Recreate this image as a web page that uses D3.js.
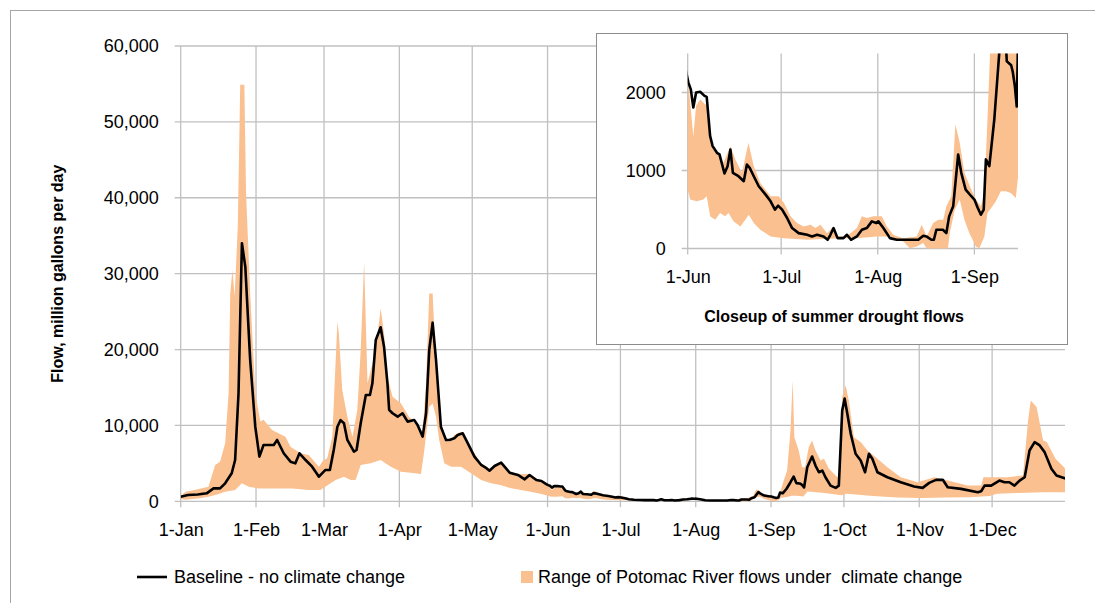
<!DOCTYPE html>
<html lang="en">
<head>
    <meta charset="UTF-8"/>
    <title>Potomac flows</title>
    <script src="https://d3js.org/d3.v7.min.js"></script>
    <style>
        body { margin: 0; background: #fff; }
        text { font-family: "Liberation Sans", Arial, sans-serif; fill: #000; }
    </style>
</head>
<body>
<div id="chart"></div>

<script>
    // day of year (0 = 1-Jan), flow in million gallons per day
    const baseline = [
        [0, 600], [3, 830], [7, 900], [10.7, 1050], [13.5, 1700], [16.2, 1700], [18.3, 2370], [21, 3700],
        [22.4, 5440], [23.8, 14230], [25.2, 34000], [26.6, 30900], [28.6, 18600], [30.7, 9830], [32.4, 5880],
        [34.1, 7420], [38.3, 7420], [39.7, 8080], [42.4, 6330], [45.2, 5220], [47.2, 5000], [48.9, 6330],
        [51.4, 5440], [54.1, 4560], [56.9, 3240], [59.6, 4130], [61.4, 4130], [63, 6760], [64.5, 9830],
        [65.8, 10700], [67.2, 10280], [68.6, 8080], [71.3, 6540], [72.4, 6760], [74.1, 10280], [76.2, 14000],
        [77.9, 14000], [78.9, 15550], [80.3, 21260], [82.3, 22930], [83.7, 20380], [85.1, 15550], [85.8, 12060],
        [87.2, 11600], [89.3, 11150], [91.3, 11600], [93.4, 10500], [96.1, 10700], [97.5, 10060], [99.6, 8520],
        [101, 11600], [102.3, 19940], [103.7, 23540], [105.1, 18620], [107.1, 9830], [109.2, 8080], [110.6, 8080],
        [112.6, 8300], [114, 8740], [116.1, 8960], [118.2, 7640], [120.9, 5880], [123.7, 4790], [125.5, 4450],
        [127.1, 4030], [129.2, 4650], [131.9, 5090], [135.4, 3770], [138.8, 3470], [141.6, 2900], [143.6, 3470],
        [146.4, 2810], [148.5, 2680], [150.3, 2300],
        [151.2, 2130], [152, 2040], [152.8, 1807], [153.7, 2000], [155, 2010], [156.4, 1957], [157.1, 1944],
        [158.2, 1442], [159, 1313], [160.4, 1227], [161.2, 1206], [162.8, 961], [163.8, 1056], [164.7, 1270],
        [165.5, 970], [167.3, 927], [169, 863], [170, 1077], [170.9, 1034], [172.2, 927], [173.8, 798],
        [176, 691], [177.6, 605], [179, 498], [180, 549], [181.3, 498], [182.9, 391], [184.5, 262], [186.6, 197],
        [189.3, 176], [190.9, 155], [192.5, 176], [194.6, 155], [195.9, 112], [196.8, 176], [197.8, 262],
        [199.1, 133], [201, 133], [202.1, 176], [203.4, 112], [205.3, 155], [206.9, 240], [208.5, 262],
        [210.1, 348], [211.5, 326], [212.2, 348], [213.8, 262], [215.9, 133], [218.1, 112], [225, 112],
        [226.6, 163], [227.6, 155], [229.2, 112], [230, 112], [230.8, 240], [232.9, 240], [234, 197],
        [234.9, 412], [236.2, 541], [237.8, 1206], [238.8, 970], [240.2, 755], [242, 670], [243, 627],
        [244.1, 519], [245.1, 433], [246, 498], [246.7, 1142], [247.8, 1056], [249.4, 1657], [251, 2515],
        [252.3, 3260], [253.4, 2400], [254.8, 2350], [255.3, 2270], [256, 2080], [256.6, 1820],
        [257.9, 4490], [259.9, 5900], [261.3, 4710], [262.7, 3830], [264.1, 4050], [265.4, 3170], [267.5, 2070],
        [269.6, 1770], [270.9, 2070], [272.3, 11980], [273.3, 13530], [274.4, 11550], [275.8, 8900],
        [277.8, 6260], [279.9, 5380], [281.7, 3830], [283.3, 6260], [284.7, 5600], [286.8, 3830], [290.9, 3170],
        [296.4, 2510], [301.9, 1940], [305.4, 1770], [308.1, 2430], [310.9, 2830], [313.7, 2830], [315.7, 1850],
        [321.2, 1640], [328.1, 1190], [329.5, 1330], [330.9, 2070], [333.6, 2070], [337, 2730], [339.1, 2510],
        [341.1, 2510], [343.2, 2070], [345.3, 2730], [347.4, 3170], [349.4, 6700], [351.5, 7800], [353.6, 7360],
        [355.6, 6480], [358.4, 4280], [360.5, 3390], [364.6, 2960]
    ];

    const rangeHigh = [
        [0, 700], [2, 1270], [5.6, 1500], [11.4, 1930], [14.2, 4790], [16.2, 5220], [18.3, 7640], [19.7, 14230],
        [20.4, 27400], [21.3, 30500], [22.2, 27000], [23.5, 36200], [24.5, 54900], [26.2, 54900], [26.9, 40600],
        [28.6, 27400], [30.7, 14230], [32.8, 10500], [34.1, 10740], [37.6, 9400], [43.1, 8520], [45.2, 7200],
        [49.3, 6330], [52.7, 6100], [56.9, 4560], [58.5, 5300], [60.3, 5670], [62.4, 8520], [64.5, 23670],
        [65.1, 22140], [66.5, 14670], [68.6, 11150], [70.7, 8520], [72.7, 12030], [74.1, 19940], [75.5, 31580],
        [76.9, 15550], [80.3, 19940], [82.3, 25440], [83.7, 22140], [85.1, 16420], [87.2, 13790], [90.6, 12920],
        [94, 11150], [97.5, 9830], [99.6, 9170], [101, 15550], [102.3, 27400], [103.7, 27400], [105.1, 17750],
        [106.4, 11150], [108.5, 8080], [110.6, 7860], [112.6, 8740], [115.4, 9170], [118.2, 7640], [120.9, 6330],
        [123.7, 5000], [127, 4300], [129, 4800], [132, 5200], [135, 4000], [139, 3600], [143, 3600], [147, 2900],
        [150, 2300],
        [151, 2170], [151.8, 1870], [152.8, 1440], [153.7, 1830], [155, 1910], [157.1, 1830], [158.7, 1360],
        [160.4, 1230], [162.5, 1100], [164.7, 1310], [166.3, 1140], [168.4, 970], [170.5, 1356], [172.2, 1056],
        [174.3, 841], [177.6, 670], [180.2, 670], [181.9, 584], [184, 412], [186.1, 326], [188.2, 283],
        [190.4, 305], [192, 262], [193.6, 305], [195.7, 197], [197.3, 262], [199, 155], [202, 155], [205.3, 262],
        [206.9, 412], [208.5, 391], [210.6, 412], [213.3, 412], [214.9, 283], [217, 176], [220, 133],
        [224.5, 155], [226.1, 305], [227.7, 155], [229.8, 326], [231.4, 369], [233, 369], [234, 541],
        [235.6, 670], [236.9, 1592], [238.3, 1356], [239.8, 970], [242, 755], [243.5, 627], [245.1, 541],
        [246.2, 712], [247.2, 1657], [248.5, 3000], [249.6, 4050], [251, 9340], [251.9, 15940], [252.6, 8450],
        [254.4, 6700], [255.8, 4490], [257, 4490], [258.5, 7130], [259.9, 8020], [261.3, 6700], [263.4, 5380],
        [264.8, 5600], [266.8, 4280], [269.6, 3390], [271, 3000], [272.3, 13740], [273.7, 15290], [275, 13300],
        [277.1, 8450], [279.9, 7800], [282.7, 6700], [286.1, 5820], [290.9, 4490], [296.4, 3170], [303.3, 2510],
        [310.2, 3170], [315.7, 2730], [324, 2070], [329.5, 2070], [330.4, 3170], [334.5, 3170], [340.4, 3170],
        [346.7, 3390], [348.8, 10660], [349.9, 13300], [352.3, 12420], [355, 8020], [356.5, 7800], [360.1, 5600],
        [363.6, 4490], [364.6, 4050]
    ];

    const rangeLow = [
        [0, 300], [2, 200], [8, 400], [11.4, 600], [15, 900], [18.3, 1270], [22.4, 1490], [25.2, 2370],
        [28, 1930], [32.1, 1700], [39, 1700], [45.9, 1700], [52.7, 1490], [57.5, 1490], [61.7, 2370],
        [63.8, 2810], [67.2, 3240], [70, 2810], [72, 2810], [74.1, 4790], [78.2, 5000], [82.3, 5440],
        [86.5, 4560], [90.6, 3900], [94.7, 3750], [98.9, 3600], [100.3, 6760], [102.3, 12470], [103.7, 12900],
        [105.1, 11150], [106.4, 8080], [108.5, 5000], [111.3, 4560], [115.4, 4560], [119.5, 3690], [123.7, 2810],
        [127.8, 2370], [132, 2100], [136, 1710], [140, 1500], [144, 1270], [148, 1000], [151, 755],
        [151.8, 627], [153.9, 605], [156, 627], [157.1, 670], [158.2, 412], [159.8, 369], [161.4, 455],
        [163, 412], [164.1, 455], [165.7, 348], [167.9, 283], [169.5, 369], [170.6, 433], [172.2, 326],
        [174.3, 240], [177.6, 155], [181.9, 133], [189.3, 112], [199.7, 133], [205.3, 133], [211.7, 155],
        [216, 155], [220.2, 90], [222.3, 4], [224.5, 26], [226.6, 69], [227.7, 0], [234.5, 0], [235.1, 197],
        [236.7, 498], [238.3, 627], [239.8, 369], [241.4, 197], [243.5, 26], [244.6, 4], [246.2, 155],
        [247.2, 455], [248.8, 541], [249.9, 605], [251.5, 734], [253.1, 734], [254.7, 712], [256.3, 648],
        [258, 1300], [265, 1100], [272, 800], [274, 1000], [285, 700], [295, 500], [305, 450], [315, 500],
        [325, 550], [333, 700], [336, 1000], [345, 1100], [355, 1200], [364.6, 1200]
    ];

    const mainYTicks = [0, 10000, 20000, 30000, 40000, 50000, 60000];
    const insetYTicks = [0, 1000, 2000];
    const legendLabels = ["Baseline - no climate change", "Range of Potomac River flows under  climate change"];

    const YEAR = 2009;
    const toDate = day => new Date(new Date(YEAR, 0, 1).getTime() + day * 864e5);
    const fmtDate = d3.timeFormat("%-d-%b");
    const fmtNum = d3.format(",");

    const W = 1095, H = 603;
    const gridColor = "#c0c0c0";
    const bandColor = "#fac090";

    const svg = d3.select("#chart").append("svg")
        .attr("width", W)
        .attr("height", H);

    // outer chart frame
    svg.append("rect")
        .attr("x", 10.5).attr("y", 10.5)
        .attr("width", 1100).attr("height", 620)
        .attr("fill", "white")
        .attr("stroke", "#a6a6a6");

    // draws one panel: gridlines, band, line, tick labels
    function panel(g, x, y, yTicks, yFormat, clipId) {
        const [x0, x1] = x.range();
        const [y0, y1] = y.range();

        g.append("g").selectAll("line")
            .data(yTicks)
            .join("line")
            .attr("x1", x0 - 6).attr("x2", x1)
            .attr("y1", d => y(d)).attr("y2", d => y(d))
            .attr("stroke", gridColor).attr("stroke-width", 1.3);

        g.append("g").selectAll("line")
            .data(x.ticks(d3.timeMonth.every(1)))
            .join("line")
            .attr("x1", d => x(d)).attr("x2", d => x(d))
            .attr("y1", y1).attr("y2", y0 + 6)
            .attr("stroke", gridColor).attr("stroke-width", 1.3);

        g.append("clipPath").attr("id", clipId)
            .append("rect")
            .attr("x", x0).attr("y", y1)
            .attr("width", x1 - x0).attr("height", y0 - y1 + 1);

        const line = d3.line()
            .x(d => x(toDate(d[0])))
            .y(d => y(d[1]));

        const band = rangeHigh.concat(rangeLow.slice().reverse());

        const plot = g.append("g").attr("clip-path", `url(#${clipId})`);
        plot.append("path")
            .attr("d", line(band) + "Z")
            .attr("fill", bandColor);
        plot.append("path")
            .attr("d", line(baseline))
            .attr("fill", "none")
            .attr("stroke", "#000")
            .attr("stroke-width", 2.6)
            .attr("stroke-linejoin", "round");

        const yAxis = g.append("g")
            .attr("transform", `translate(${x0 - 19}, 0)`)
            .call(d3.axisLeft(y).tickValues(yTicks).tickFormat(yFormat).tickSize(0));
        yAxis.select(".domain").remove();

        const xAxis = g.append("g")
            .attr("transform", `translate(0, ${y0 + 19})`)
            .call(d3.axisBottom(x).ticks(d3.timeMonth.every(1)).tickFormat(fmtDate).tickSize(0));
        xAxis.select(".domain").remove();

        g.selectAll(".tick text")
            .style("font-family", '"Liberation Sans", Arial, sans-serif')
            .style("font-size", "18px")
            .attr("fill", "#000");
    }

    // main chart
    const x = d3.scaleTime()
        .domain([toDate(0), toDate(364)])
        .range([180.7, 1065]);
    const y = d3.scaleLinear()
        .domain([0, 60000])
        .range([501.3, 46]);

    panel(svg.append("g"), x, y, mainYTicks, fmtNum, "clipMain");

    svg.append("text")
        .attr("transform", `translate(63, ${(46 + 501.3) / 2}) rotate(-90)`)
        .attr("text-anchor", "middle")
        .style("font-size", "16px")
        .style("font-weight", "bold")
        .text("Flow, million gallons per day");

    // inset closeup
    const inset = svg.append("g");
    inset.append("rect")
        .attr("x", 596.5).attr("y", 33.5)
        .attr("width", 471).attr("height", 311)
        .attr("fill", "white")
        .attr("stroke", "#8c8c8c");

    const xi = d3.scaleTime()
        .domain([toDate(151), toDate(257)])
        .range([687.7, 1018]);
    const yi = d3.scaleLinear()
        .domain([0, 2500])
        .range([248.5, 53.5]);

    panel(inset, xi, yi, insetYTicks, d3.format("d"), "clipInset");

    inset.append("text")
        .attr("x", 834).attr("y", 322)
        .attr("text-anchor", "middle")
        .style("font-size", "16px")
        .style("font-weight", "bold")
        .text("Closeup of summer drought flows");

    // legend
    const legend = svg.append("g").attr("transform", "translate(0, 577)");
    legend.append("line")
        .attr("x1", 137).attr("x2", 167)
        .attr("stroke", "#000").attr("stroke-width", 2.6);
    legend.append("text")
        .attr("x", 174).attr("dy", "0.35em")
        .style("font-size", "18px")
        .text(legendLabels[0]);
    legend.append("rect")
        .attr("x", 521).attr("y", -6)
        .attr("width", 12).attr("height", 12)
        .attr("fill", bandColor);
    legend.append("text")
        .attr("x", 538).attr("dy", "0.35em")
        .style("font-size", "18px")
        .style("white-space", "pre")
        .text(legendLabels[1]);
</script>
</body>
</html>
